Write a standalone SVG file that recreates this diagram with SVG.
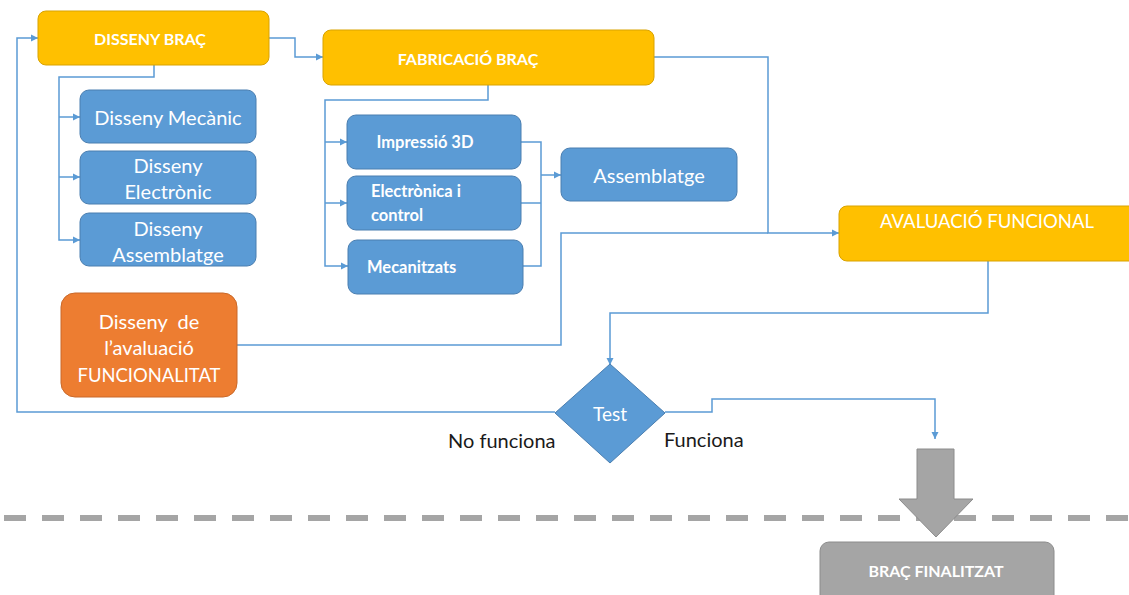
<svg xmlns="http://www.w3.org/2000/svg" width="1129" height="595" viewBox="0 0 1129 595">
  <style>
    .yellow { fill: #FFC000; stroke: #D9A300; stroke-width: 1; }
    .blue { fill: #5B9BD5; stroke: #4A7EB0; stroke-width: 1; }
    .orange { fill: #ED7D31; stroke: #C9692A; stroke-width: 1; }
    .grey { fill: #A5A5A5; stroke: #8C8C8C; stroke-width: 1; }
    .wire { fill: none; stroke: #5B9BD5; stroke-width: 1.5; }
    .t { font-family: Lato, "Open Sans", "Liberation Sans", sans-serif; fill: #FFFFFF; text-anchor: middle; dominant-baseline: central; white-space: pre; }
    .b { font-weight: bold; }
    .dark { font-family: Lato, "Open Sans", "Liberation Sans", sans-serif; fill: #1A1A1A; font-size: 20px; dominant-baseline: central; }
  </style>
  <defs>
    <marker id="arr" viewBox="0 0 10 10" refX="10" refY="5" markerWidth="5" markerHeight="5" orient="auto" markerUnits="strokeWidth">
      <path d="M0,0 L10,5 L0,10 z" fill="#5B9BD5"/>
    </marker>
  </defs>

  <!-- separator line -->
  <line x1="4" y1="518" x2="1129" y2="518" stroke="#A5A5A5" stroke-width="6" stroke-dasharray="22 16"/>

  <g id="connectors">
    <!-- loop back: Test "No funciona" to DISSENY BRAÇ -->
    <polyline class="wire" points="555,412 17,412 17,38 38,38" marker-end="url(#arr)"/>
    <!-- DISSENY BRAÇ to FABRICACIÓ BRAÇ -->
    <polyline class="wire" points="269,38 295,38 295,57 323,57" marker-end="url(#arr)"/>
    <!-- DISSENY BRAÇ sub-tasks -->
    <polyline class="wire" points="154,65 154,77 59,77 59,240 80,240" marker-end="url(#arr)"/>
    <polyline class="wire" points="59,117 80,117" marker-end="url(#arr)"/>
    <polyline class="wire" points="59,177 80,177" marker-end="url(#arr)"/>
    <!-- FABRICACIÓ BRAÇ sub-tasks -->
    <polyline class="wire" points="488,85 488,100 325,100 325,266 348,266" marker-end="url(#arr)"/>
    <polyline class="wire" points="325,142 347,142" marker-end="url(#arr)"/>
    <polyline class="wire" points="325,203 347,203" marker-end="url(#arr)"/>
    <!-- sub-tasks to Assemblatge -->
    <polyline class="wire" points="521,142 541,142 541,266 523,266"/>
    <polyline class="wire" points="521,203 541,203"/>
    <polyline class="wire" points="541,175 561,175" marker-end="url(#arr)"/>
    <!-- FABRICACIÓ BRAÇ to AVALUACIÓ FUNCIONAL -->
    <polyline class="wire" points="654,57 768,57 768,233 839,233" marker-end="url(#arr)"/>
    <!-- evaluation design to AVALUACIÓ FUNCIONAL -->
    <polyline class="wire" points="237,345 561,345 561,233 768,233"/>
    <!-- AVALUACIÓ FUNCIONAL to Test -->
    <polyline class="wire" points="988,261 988,313 610,313 610,365" marker-end="url(#arr)"/>
    <!-- Test "Funciona" onwards -->
    <polyline class="wire" points="665,412 712,412 712,399 935,399 935,439" marker-end="url(#arr)"/>
    <!-- block arrow to BRAÇ FINALITZAT -->
    <polygon class="grey" points="917,449 954,449 954,499 973,499 936,537 899,499 917,499"/>
  </g>

  <g id="disseny-brac">
    <rect class="yellow" x="38" y="11" width="231" height="54" rx="8"/>
    <text class="t b" x="150" y="38" font-size="16">DISSENY BRAÇ</text>
  </g>
  <g id="fabricacio-brac">
    <rect class="yellow" x="323" y="30" width="331" height="55" rx="8"/>
    <text class="t b" x="468" y="58" font-size="16">FABRICACIÓ BRAÇ</text>
  </g>

  <g id="disseny-mecanic">
    <rect class="blue" x="80" y="90" width="176" height="53" rx="9"/>
    <text class="t" x="168" y="117" font-size="20">Disseny Mecànic</text>
  </g>
  <g id="disseny-electronic">
    <rect class="blue" x="80" y="151" width="176" height="53" rx="9"/>
    <text class="t" x="168" y="165" font-size="20">Disseny</text>
    <text class="t" x="168" y="191" font-size="20">Electrònic</text>
  </g>
  <g id="disseny-assemblatge">
    <rect class="blue" x="80" y="213" width="176" height="53" rx="9"/>
    <text class="t" x="168" y="228" font-size="20">Disseny</text>
    <text class="t" x="168" y="254" font-size="20">Assemblatge</text>
  </g>

  <g id="impressio-3d">
    <rect class="blue" x="347" y="115" width="174" height="54" rx="9"/>
    <text class="t b" x="425" y="142" font-size="16.5">Impressió 3D</text>
  </g>
  <g id="electronica-control">
    <rect class="blue" x="347" y="176" width="174" height="54" rx="9"/>
    <text class="t b" x="371" y="191" font-size="16.5" style="text-anchor:start">Electrònica i</text>
    <text class="t b" x="371" y="215" font-size="16.5" style="text-anchor:start">control</text>
  </g>
  <g id="mecanitzats">
    <rect class="blue" x="348" y="240" width="175" height="54" rx="9"/>
    <text class="t b" x="367" y="267" font-size="16.5" style="text-anchor:start">Mecanitzats</text>
  </g>

  <g id="assemblatge">
    <rect class="blue" x="561" y="148" width="176" height="53" rx="9"/>
    <text class="t" x="649" y="175" font-size="20">Assemblatge</text>
  </g>

  <g id="avaluacio-funcional">
    <rect class="yellow" x="839" y="206" width="300" height="55" rx="8"/>
    <text class="t" x="987" y="221" font-size="18.5">AVALUACIÓ FUNCIONAL</text>
  </g>

  <g id="disseny-avaluacio">
    <rect class="orange" x="61" y="293" width="176" height="104" rx="14"/>
    <text class="t" x="149" y="321" font-size="20">Disseny  de</text>
    <text class="t" x="149" y="347" font-size="20">l’avaluació</text>
    <text class="t" x="149" y="374" font-size="19" textLength="143" lengthAdjust="spacingAndGlyphs">FUNCIONALITAT</text>
  </g>

  <g id="test">
    <polygon class="blue" points="610,364 665,413 610,463 555,413"/>
    <text class="t" x="610" y="413" font-size="19">Test</text>
  </g>
  <text class="dark" x="448" y="440">No funciona</text>
  <text class="dark" x="664" y="439">Funciona</text>

  <g id="brac-finalitzat">
    <rect class="grey" x="820" y="542" width="234" height="62" rx="9"/>
    <text class="t b" x="936" y="570" font-size="16">BRAÇ FINALITZAT</text>
  </g>
</svg>
